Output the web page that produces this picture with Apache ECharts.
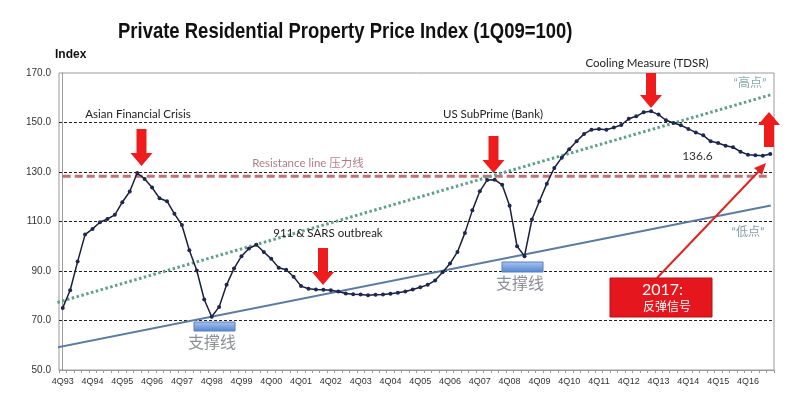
<!DOCTYPE html>
<html>
<head>
<meta charset="utf-8">
<script src="https://cdn.jsdelivr.net/npm/echarts@6/dist/echarts.min.js"></script>
<style>
  html, body { margin: 0; padding: 0; background: #fff; }
  #chart { width: 800px; height: 397px; }
</style>
</head>
<body>
<div id="chart"></div>
<script>
// quarters 4Q93 .. 3Q17
const quarters = [
  '4Q93','1Q94','2Q94','3Q94','4Q94','1Q95','2Q95','3Q95','4Q95','1Q96','2Q96','3Q96',
  '4Q96','1Q97','2Q97','3Q97','4Q97','1Q98','2Q98','3Q98','4Q98','1Q99','2Q99','3Q99',
  '4Q99','1Q00','2Q00','3Q00','4Q00','1Q01','2Q01','3Q01','4Q01','1Q02','2Q02','3Q02',
  '4Q02','1Q03','2Q03','3Q03','4Q03','1Q04','2Q04','3Q04','4Q04','1Q05','2Q05','3Q05',
  '4Q05','1Q06','2Q06','3Q06','4Q06','1Q07','2Q07','3Q07','4Q07','1Q08','2Q08','3Q08',
  '4Q08','1Q09','2Q09','3Q09','4Q09','1Q10','2Q10','3Q10','4Q10','1Q11','2Q11','3Q11',
  '4Q11','1Q12','2Q12','3Q12','4Q12','1Q13','2Q13','3Q13','4Q13','1Q14','2Q14','3Q14',
  '4Q14','1Q15','2Q15','3Q15','4Q15','1Q16','2Q16','3Q16','4Q16','1Q17','2Q17','3Q17'
]

const priceIndex = [
  75.1, 82.2, 93.8, 104.7, 107.0, 109.7, 111.0, 112.7, 117.8, 122.1, 129.6, 127.2,
  123.7, 119.4, 118.2, 113.1, 108.6, 98.4, 90.2, 78.5, 71.5, 75.5, 84.4, 91.0,
  96.0, 99.1, 100.6, 97.7, 94.9, 91.3, 90.5, 87.7, 83.9, 82.8, 82.5, 82.4,
  82.2, 81.7, 80.9, 80.6, 80.5, 80.2, 80.4, 80.5, 80.8, 81.2, 81.7, 82.5,
  83.4, 84.4, 86.2, 89.5, 93.0, 97.7, 105.4, 114.5, 122.2, 126.8, 126.9, 124.8,
  116.4, 100.0, 96.0, 110.8, 118.2, 125.3, 131.6, 135.8, 139.2, 142.4, 145.4, 147.1,
  147.4, 147.1, 148.0, 149.0, 151.5, 152.5, 154.1, 154.5, 153.2, 150.9, 149.8, 148.9,
  147.4, 146.0, 144.8, 142.4, 141.7, 140.6, 140.0, 138.2, 137.0, 136.8, 136.6, 137.3
]

const labelledPoint = 94

// guide lines, x in quarter index units
const resistanceLine = [[0, 128.3], [95, 128.3]]
const highTrend = [[-2.65, 75.6], [95.07, 161.2]]
const supportTrend = [[-2.69, 58.0], [95.07, 116.5]]

const yTicks = { min: 50, max: 170, interval: 20 }

const chartInstance = echarts.init(document.getElementById('chart'))

const downArrow = (cx, top, bottom) => {
  const h = 13
  return {
    type: 'polygon',
    shape: {
      points: [
        [cx - 5, top], [cx + 5, top], [cx + 5, bottom - h], [cx + 11, bottom - h],
        [cx, bottom], [cx - 11, bottom - h], [cx - 5, bottom - h]
      ]
    },
    style: { fill: '#ee1c1c' },
    z: 20
  }
}

const upArrow = (cx, top, bottom) => {
  const h = 13
  return {
    type: 'polygon',
    shape: {
      points: [
        [cx, top], [cx + 11, top + h], [cx + 5, top + h], [cx + 5, bottom],
        [cx - 5, bottom], [cx - 5, top + h], [cx - 11, top + h]
      ]
    },
    style: { fill: '#ee1c1c' },
    z: 20
  }
}

const note = (text, x, y, size, color, extra) => ({
  type: 'text',
  x: x,
  y: y,
  style: Object.assign({
    text: text,
    fill: color,
    font: size + 'px Lato, "Noto Sans CJK SC", sans-serif',
    align: 'center',
    verticalAlign: 'middle'
  }, extra || {}),
  z: 20
})

const supportBar = (x, y, w, h) => ({
  type: 'rect',
  shape: { x: x, y: y, width: w, height: h },
  style: {
    fill: new echarts.graphic.LinearGradient(0, 0, 0, 1, [
      { offset: 0, color: '#a9c6f0' },
      { offset: 1, color: '#5286cf' }
    ]),
    stroke: '#5a7fbf',
    lineWidth: 1
  },
  z: 20
})

const option = {
  backgroundColor: '#fff',
  animation: false,

  grid: {
    left: 59,
    right: 26,
    top: 73,
    bottom: 27,
    show: true,
    borderColor: '#9a9a9a',
    borderWidth: 1
  },

  xAxis: [
    {
      type: 'category',
      data: quarters,
      boundaryGap: true,
      axisLine: { lineStyle: { color: '#9a9a9a' } },
      axisTick: { show: true, interval: 0, length: 3, lineStyle: { color: '#9a9a9a' } },
      axisLabel: {
        interval: 3,
        color: '#333',
        fontSize: 9,
        fontFamily: '"Liberation Sans", Arial, sans-serif',
        margin: 7
      },
      splitLine: { show: false }
    },
    {
      type: 'value',
      min: -0.5,
      max: 95.5,
      show: false
    }
  ],

  yAxis: {
    type: 'value',
    min: yTicks.min,
    max: yTicks.max,
    interval: yTicks.interval,
    axisLine: { show: true, lineStyle: { color: '#9a9a9a' } },
    axisTick: { show: false },
    axisLabel: {
      color: '#333',
      fontSize: 10,
      fontFamily: '"Liberation Sans", Arial, sans-serif',
      margin: 8,
      formatter: (v) => v.toFixed(1)
    },
    splitLine: {
      showMinLine: false,
      showMaxLine: false,
      lineStyle: { color: '#222', type: [3, 2], width: 1 }
    }
  },

  series: [
    {
      name: 'Resistance line',
      type: 'line',
      xAxisIndex: 1,
      data: resistanceLine,
      symbol: 'none',
      lineStyle: { color: '#b5585c', width: 3, type: [8, 4], opacity: 0.85 },
      z: 3
    },
    {
      name: 'High trend',
      type: 'line',
      xAxisIndex: 1,
      data: highTrend,
      symbol: 'none',
      clip: false,
      lineStyle: { color: '#5f9f8c', width: 3, type: [2.5, 2.5] },
      z: 3
    },
    {
      name: 'Support trend',
      type: 'line',
      xAxisIndex: 1,
      data: supportTrend,
      symbol: 'none',
      clip: false,
      lineStyle: { color: '#5b7c9e', width: 2 },
      z: 3
    },
    {
      name: 'PPI',
      type: 'line',
      data: priceIndex.map((v, i) => i === labelledPoint
        ? {
            value: v,
            label: {
              show: true,
              position: 'left',
              distance: 48,
              color: '#333',
              fontSize: 12,
              fontFamily: 'Lato, sans-serif',
              formatter: (p) => p.value.toFixed(1)
            }
          }
        : v),
      symbol: 'circle',
      symbolSize: 4,
      itemStyle: { color: '#1d2754' },
      lineStyle: { color: '#1a1f3a', width: 1.5 },
      z: 5
    }
  ],

  graphic: [
    {
      type: 'text',
      x: 118,
      y: 32,
      scaleX: 0.84,
      style: {
        text: 'Private Residential Property Price Index (1Q09=100)',
        font: 'bold 22px "Liberation Sans", Arial, sans-serif',
        fill: '#111',
        verticalAlign: 'middle'
      }
    },
    {
      type: 'text',
      x: 55,
      y: 55,
      style: {
        text: 'Index',
        font: 'bold 12px "Liberation Sans", Arial, sans-serif',
        fill: '#111',
        verticalAlign: 'middle'
      }
    },
    note('Asian Financial Crisis', 138, 114, 11.5, '#222'),
    note('911 & SARS outbreak', 328, 233, 11.5, '#222'),
    note('US SubPrime (Bank)', 493, 114, 11.5, '#222'),
    note('Cooling Measure (TDSR)', 647, 63, 11.5, '#222'),
    note('Resistance line 压力线', 308, 163, 11.5, '#b27c86'),
    note('“高点”', 750, 83, 12, '#86abab'),
    note('“低点”', 748, 232, 12, '#8a9aaa'),

    downArrow(141.5, 129, 166),
    downArrow(323, 248, 285),
    downArrow(493.5, 136, 173),
    downArrow(651, 73, 108),
    upArrow(769, 112, 147),

    supportBar(194, 322, 41, 9),
    supportBar(502, 262, 41, 10),
    note('支撑线', 212, 343, 16, '#8c9096'),
    note('支撑线', 520, 284, 16, '#8c9096'),

    {
      type: 'line',
      shape: { x1: 657, y1: 278, x2: 761, y2: 169 },
      style: { stroke: '#e02424', lineWidth: 2 },
      z: 19
    },
    {
      type: 'polygon',
      shape: { points: [[766, 163], [754, 168], [762, 175]] },
      style: { fill: '#e02424' },
      z: 19
    },
    {
      type: 'rect',
      shape: { x: 610, y: 278, width: 102, height: 39 },
      style: { fill: '#e5161d', stroke: '#b51015', lineWidth: 1 },
      z: 20
    },
    note('2017:', 642, 290, 16, '#fff', { align: 'left' }),
    note('反弹信号', 643, 307, 12, '#fff', { align: 'left' })
  ]
}

chartInstance.setOption(option)
</script>
</body>
</html>
